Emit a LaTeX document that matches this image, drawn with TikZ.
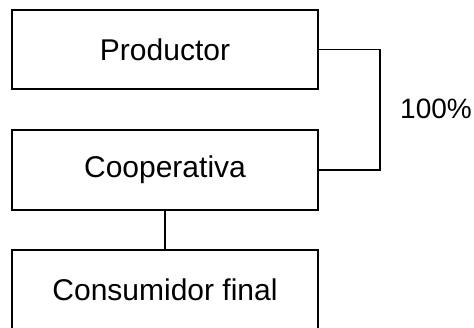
\documentclass[tikz,border=0pt]{standalone}
\usepackage{fontspec}
\setmainfont{Liberation Sans}
\begin{document}
\begin{tikzpicture}[x=1pt,y=-1pt,
  box/.style={draw, line width=2pt, minimum width=306pt, inner sep=0pt, font=\fontsize{30}{34}\selectfont},
  conn/.style={line width=1.6pt}]
\useasboundingbox (0,0) rectangle (474,328);
\begin{scope}
\clip (0,0) rectangle (474,328);
\node[box, minimum height=79pt] (p) at (165,49.5) {Productor};
\node[box, minimum height=80pt] (co) at (165,170) {Cooperativa};
\node[box, minimum height=80pt] (c) at (165,290) {Consumidor final};
\coordinate (k) at (380,110);
\draw[conn] (p.east) -| (k) |- (co.east);
\draw[conn] (co.south) -- (c.north);
\node[anchor=base west, inner sep=0pt, font=\fontsize{28}{32}\selectfont] (pct) at (400,119) {100\%};
\end{scope}
\end{tikzpicture}
\end{document}
